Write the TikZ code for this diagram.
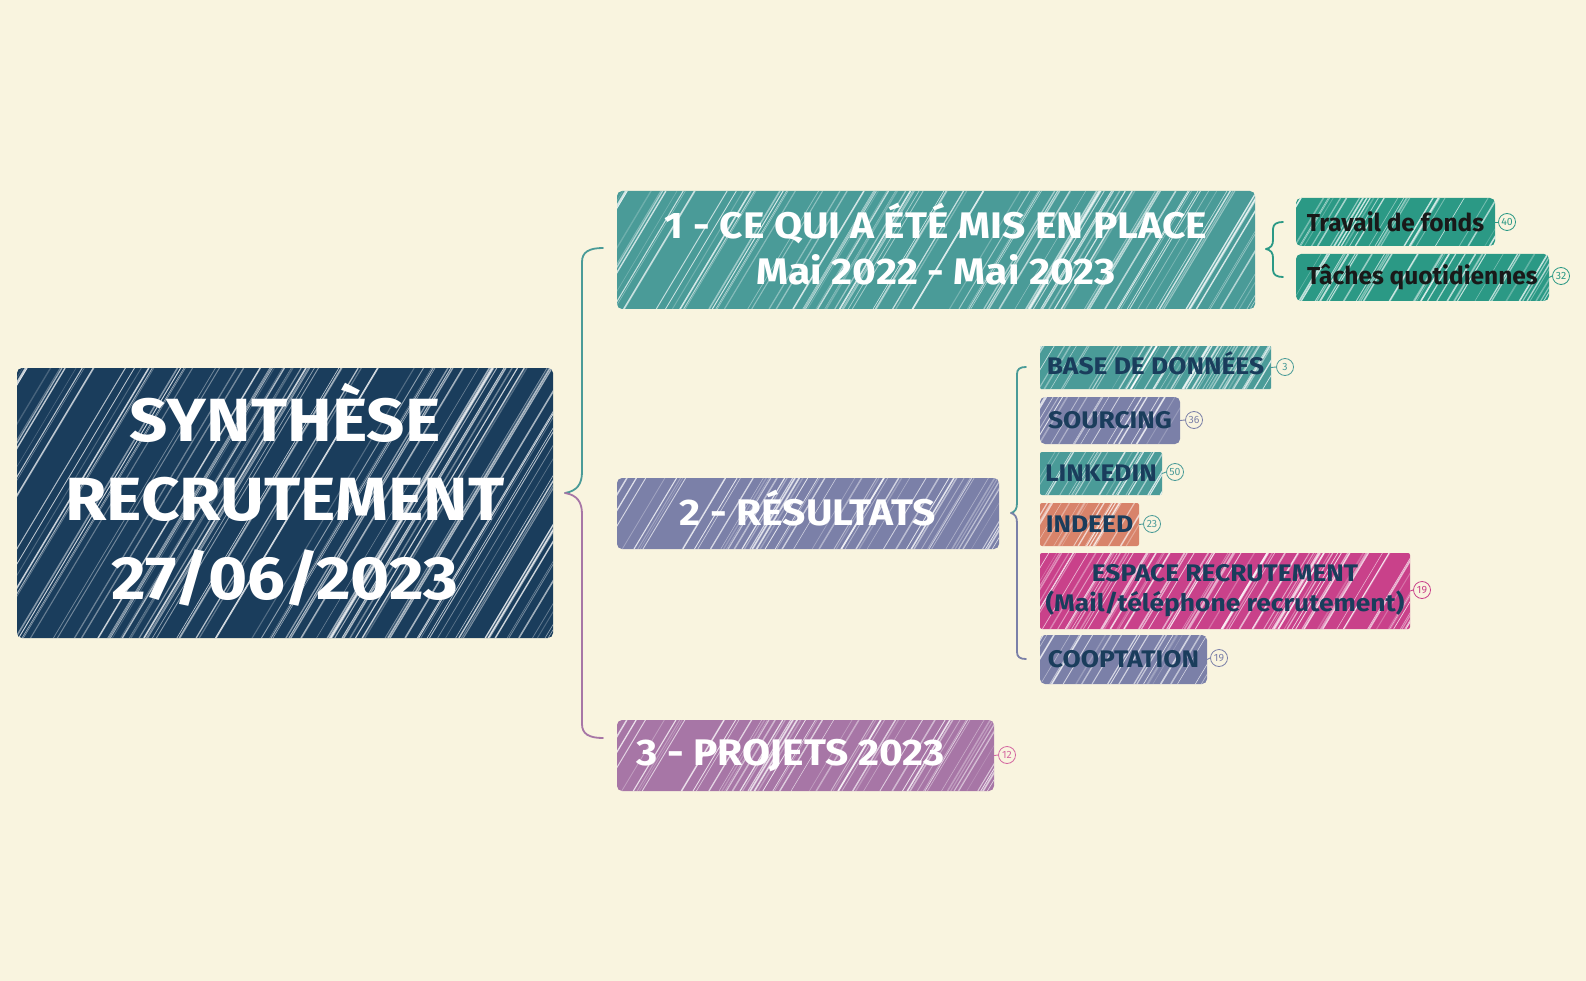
\documentclass[tikz,border=0pt]{standalone}
\usepackage{fontspec}
\setmainfont{Fira Sans}
\newfontfamily\wfont{Fira Sans}[FakeStretch=1.1]
\usetikzlibrary{calc}
\definecolor{bgc}{HTML}{F9F4DF}
\definecolor{navy}{HTML}{1A3D5C}
\definecolor{teal1}{HTML}{4A9B98}
\definecolor{greyb}{HTML}{7B80A8}
\definecolor{purp}{HTML}{A776A6}
\definecolor{greent}{HTML}{2B9985}
\definecolor{salmon}{HTML}{D8836A}
\definecolor{magen}{HTML}{C9418A}
\newcommand\hatchlines[1]{%
  \pgfmathsetseed{#1}%
  \foreach \i in {1,...,#1}{%
    \pgfmathsetmacro\ht{rnd}%
    \pgfmathsetmacro\ho{0.2+0.6*rnd}%
    \pgfmathsetmacro\hw{0.5+1.1*rnd}%
    \draw[white,opacity=\ho,line width=\hw pt,line cap=round]
      let \p1=(path picture bounding box.south west),
          \p2=(path picture bounding box.north east),
          \n1={\y2-\y1}, \n2={\x2-\x1} in
      ({\x1-0.6*\n1+\ht*(\n2+0.6*\n1)},{\y1}) -- ++({0.6*\n1*1pt},{\n1*1pt});
  }%
}
\tikzset{
  box/.style={rounded corners=5pt, inner sep=0pt},
  hatch/.style={path picture={\hatchlines{#1}}},
  badge/.style={circle, draw=#1, line width=0.8pt, fill=bgc, inner sep=0pt, minimum size=17pt, text=#1, font=\fontsize{10.5}{10.5}\selectfont},
  bline/.style={draw=#1, line width=0.9pt},
  brc/.style={draw=#1, line width=1.8pt, line cap=round},
  bigf/.style={font=\wfont\fontsize{61}{79}\selectfont\bfseries, text=white, align=center},
  midf/.style={font=\wfont\fontsize{37}{46}\selectfont\bfseries, text=white, align=center},
  smf/.style={font=\wfont\fontsize{24}{30}\selectfont\bfseries, text=navy, align=center},
  blf/.style={font=\fontsize{24.5}{30}\selectfont\bfseries, text=black!90, align=center},
}
\begin{document}
\begin{tikzpicture}[x=1pt,y=-1pt]
\fill[bgc] (0,0) rectangle (1586,981);
\useasboundingbox (0,0) rectangle (1586,981);

% main nodes
\node[box, fill=navy, hatch=110, minimum width=536pt, minimum height=270pt,
  label={[bigf, yshift=8pt]center:SYNTHÈSE\\RECRUTEMENT\\27/06/2023}] (c) at (285,503) {};
\node[box, fill=teal1, hatch=110, minimum width=638pt, minimum height=118pt,
  label={[midf, yshift=6pt]center:1 - CE QUI A ÉTÉ MIS EN PLACE\\Mai 2022 - Mai 2023}] (n1) at (936,250) {};
\node[box, fill=greyb, hatch=65, minimum width=382pt, minimum height=71pt,
  label={[midf, yshift=5pt]center:2 - RÉSULTATS}] (n2) at (808,513.5) {};
\node[box, fill=purp, hatch=65, minimum width=377pt, minimum height=71pt,
  label={[midf, xshift=-15pt]center:3 - PROJETS 2023}] (n3) at (805.5,755.5) {};

% children of n1
\node[box, fill=greent, hatch=32, minimum width=199pt, minimum height=48pt,
  label={[blf]center:Travail de fonds}] (t1) at (1395.5,222) {};
\node[box, fill=greent, hatch=40, minimum width=253pt, minimum height=47pt,
  label={[blf]center:Tâches quotidiennes}] (t2) at (1422.5,277.5) {};

% children of n2
\node[box, rounded corners=1pt, fill=teal1, hatch=55, minimum width=231pt, minimum height=43pt,
  label={[smf, yshift=4pt]center:BASE DE DONNÉES}] (r1) at (1155.5,367.5) {};
\node[box, fill=greyb, hatch=24, minimum width=140pt, minimum height=47pt,
  label={[smf]center:SOURCING}] (r2) at (1110,420.5) {};
\node[box, rounded corners=2pt, fill=teal1, hatch=26, minimum width=122pt, minimum height=43pt,
  label={[smf]center:LINKEDIN}] (r3) at (1101,473.5) {};
\node[box, rounded corners=2pt, fill=salmon, hatch=22, minimum width=99pt, minimum height=43pt,
  label={[smf]center:INDEED}] (r4) at (1089.5,524.5) {};
\node[box, rounded corners=2pt, fill=magen, hatch=90, minimum width=370pt, minimum height=76pt,
  label={[smf]center:ESPACE RECRUTEMENT\\(Mail/téléphone recrutement)}] (r5) at (1225,591) {};
\node[box, fill=greyb, hatch=28, minimum width=167pt, minimum height=49pt,
  label={[smf]center:COOPTATION}] (r6) at (1123.5,659.5) {};

% badges
\node[badge=greent] (b1) at (1507,222) {40};
\node[badge=greent] (b2) at (1561,276) {32};
\node[badge=teal1] (b3) at (1285,367) {3};
\node[badge=greyb] (b4) at (1194,420) {36};
\node[badge=teal1] (b5) at (1175,472) {50};
\node[badge=teal1] (b6) at (1152,524) {23};
\node[badge=magen] (b7) at (1422,590) {19};
\node[badge=greyb] (b8) at (1219,658) {19};
\node[badge=magen!80] (b9) at (1007,755) {12};
\draw[bline=greent] (t1.east) -- (b1.west);
\draw[bline=greent] (t2.east) -- (b2.west);
\draw[bline=teal1] (r1.east) -- (b3.west);
\draw[bline=greyb] (r2.east) -- (b4.west);
\draw[bline=teal1] (r3.east) -- (b5.west);
\draw[bline=teal1] (r4.east) -- (b6.west);
\draw[bline=magen] (r5.east) -- (b7.west);
\draw[bline=greyb] (r6.east) -- (b8.west);
\draw[bline=magen!80] (n3.east) -- (b9.west);

% main brace
\coordinate (m0) at (565,493);
\coordinate (m1) at (603,248);
\coordinate (m2) at (603,738);
\draw[brc=teal1] (m0) .. controls (577,491) and (582,484) .. (582,472) -- (582,262) .. controls (582,252) and (589,248) .. (m1);
\draw[brc=purp] (m0) .. controls (577,495) and (582,502) .. (582,514) -- (582,724) .. controls (582,734) and (589,738) .. (m2);

% brace n1 children
\coordinate (p0) at (1266,249);
\coordinate (p1) at (1283,222);
\coordinate (p2) at (1283,277);
\draw[brc=greent] (p0) .. controls (1271,248) and (1273,245) .. (1273,240) -- (1273,229) .. controls (1273,224) and (1277,222) .. (p1);
\draw[brc=greent] (p0) .. controls (1271,250) and (1273,253) .. (1273,258) -- (1273,270) .. controls (1273,275) and (1277,277) .. (p2);

% brace n2 children
\coordinate (q0) at (1011,513);
\coordinate (q1) at (1026,367);
\coordinate (q2) at (1026,659);
\draw[brc=teal1] (q0) .. controls (1015,512) and (1017,509) .. (1017,503) -- (1017,374) .. controls (1017,369) and (1020,367) .. (q1);
\draw[brc=greyb] (q0) .. controls (1015,514) and (1017,517) .. (1017,523) -- (1017,652) .. controls (1017,657) and (1020,659) .. (q2);
\end{tikzpicture}
\end{document}
